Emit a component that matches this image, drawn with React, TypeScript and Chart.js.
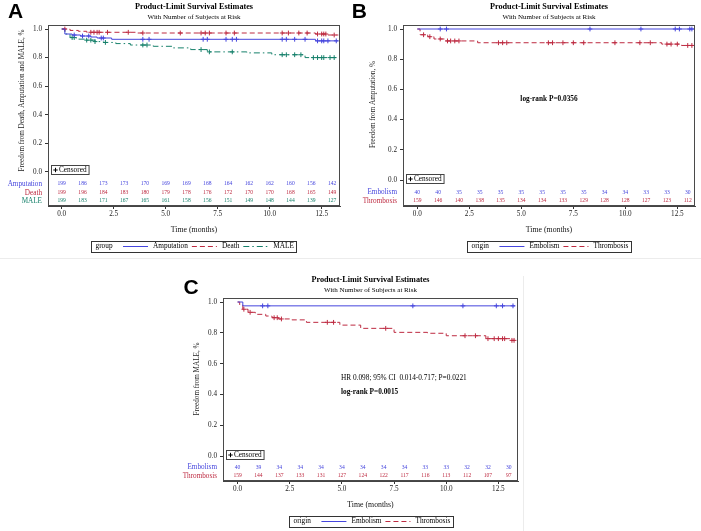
import React, { useEffect, useRef } from 'react';
import { Chart, registerables } from 'chart.js';

Chart.register(...registerables);

const BLUE = '#4545dd';
const RED = '#bd2a40';
const GREEN = '#16806b';
const SERIF = '"Liberation Serif", "Times New Roman", serif';
const SANS = '"Liberation Sans", Arial, sans-serif';

// ---------- shared axis data ----------
const riskMonths = [0, 1, 2, 3, 4, 5, 6, 7, 8, 9, 10, 11, 12, 13];
const xTickValues = [0, 2.5, 5, 7.5, 10, 12.5];
const yTickValues = [0, 0.2, 0.4, 0.6, 0.8, 1.0];

// ---------- Panel A ----------
const aAmpTimes = [0, 0.15, 0.5, 0.9, 1.4, 1.7, 2.4, 12.2, 13.3];
const aAmpSurv = [1.0, 0.965, 0.958, 0.951, 0.944, 0.937, 0.928, 0.917, 0.917];
const aAmpCens = [0.6, 1.0, 1.3, 1.9, 2.0, 3.9, 4.2, 6.8, 7.0, 7.9, 8.2, 8.4, 10.6, 10.8, 11.2, 11.7, 12.3, 12.5, 12.6, 12.8, 13.2];
const aAmpRisk = [199, 186, 173, 173, 170, 169, 169, 168, 164, 162, 162, 160, 156, 142];

const aDeathTimes = [0, 0.4, 0.8, 1.2, 3.6, 12.2, 12.8, 13.3];
const aDeathSurv = [1.0, 0.99, 0.984, 0.977, 0.972, 0.965, 0.958, 0.958];
const aDeathCens = [0.15, 1.4, 1.55, 1.7, 1.8, 2.2, 3.2, 3.9, 5.7, 6.7, 6.9, 7.1, 7.9, 8.3, 10.6, 10.9, 11.4, 11.8, 12.3, 12.5, 12.6, 12.7, 13.1];
const aDeathRisk = [199, 196, 184, 183, 180, 179, 178, 176, 172, 170, 170, 168, 165, 149];

const aMaleTimes = [0, 0.15, 0.4, 0.7, 1.1, 1.6, 2.0, 2.6, 3.3, 4.4, 5.3, 6.2, 7.0, 8.9, 10.1, 11.7, 13.3];
const aMaleSurv = [1.0, 0.965, 0.94, 0.929, 0.922, 0.912, 0.906, 0.898, 0.888, 0.879, 0.868, 0.856, 0.84, 0.833, 0.82, 0.8, 0.8];
const aMaleCens = [0.5, 0.6, 1.2, 1.4, 1.6, 2.1, 3.9, 4.1, 6.7, 7.1, 8.2, 10.6, 10.8, 11.2, 11.5, 12.1, 12.3, 12.5, 12.6, 12.9, 13.1];
const aMaleRisk = [199, 183, 171, 167, 165, 161, 158, 156, 151, 149, 148, 144, 139, 127];

// ---------- Panel B ----------
const bEmbTimes = [0, 13.3];
const bEmbSurv = [1.0, 1.0];
const bEmbCens = [1.1, 1.4, 8.3, 10.75, 12.4, 12.6, 13.1, 13.2];
const bEmbRisk = [40, 40, 35, 35, 35, 35, 35, 35, 35, 34, 34, 33, 33, 30];

const bThrTimes = [0, 0.13, 0.5, 0.8, 1.3, 2.9, 11.75, 12.7, 13.3];
const bThrSurv = [1.0, 0.962, 0.949, 0.934, 0.921, 0.909, 0.9, 0.891, 0.891];
const bThrCens = [0.3, 0.6, 1.1, 1.45, 1.6, 1.8, 2.0, 3.9, 4.1, 4.3, 6.3, 6.5, 7.0, 7.5, 8.0, 9.5, 10.7, 11.2, 12.0, 12.2, 12.5, 13.0, 13.2];
const bThrRisk = [159, 146, 140, 138, 135, 134, 134, 133, 129, 128, 128, 127, 123, 112];

// ---------- Panel C ----------
const cEmbTimes = [0, 0.25, 13.3];
const cEmbSurv = [1.0, 0.975, 0.975];
const cEmbCens = [1.2, 1.45, 8.4, 10.8, 12.4, 12.7, 13.2];
const cEmbRisk = [40, 39, 34, 34, 34, 34, 34, 34, 34, 33, 33, 32, 32, 30];

const cThrTimes = [0, 0.1, 0.25, 0.5, 0.85, 1.35, 1.65, 1.95, 2.6, 3.3, 4.9, 5.9, 7.5, 9.1, 10.0, 11.9, 13.1, 13.3];
const cThrSurv = [1.0, 0.98, 0.953, 0.933, 0.92, 0.909, 0.898, 0.89, 0.884, 0.868, 0.85, 0.829, 0.803, 0.797, 0.781, 0.762, 0.751, 0.751];
const cThrCens = [0.3, 0.6, 1.75, 1.9, 2.1, 4.3, 4.6, 7.1, 10.9, 11.4, 12.0, 12.3, 12.5, 12.7, 12.8, 13.15, 13.25];
const cThrRisk = [159, 144, 137, 133, 131, 127, 124, 122, 117, 116, 113, 112, 107, 97];

type Series = { name: string; color: string; dash: number[]; times: number[]; surv: number[]; cens: number[]; risk: number[] };
type Note = { text: string; dx: number; dy: number; bold?: boolean; align: CanvasTextAlign };
type PanelCfg = {
  letter: string;
  left: number; top: number; width: number; height: number;
  area: { l: number; t: number; r: number; b: number };
  xMin: number; xMax: number; yMin: number; yMax: number;
  yTitle: string; yTitleOffset: number;
  legendTitle: string;
  riskRowOffsets: number[];
  letterPos: [number, number];
  series: Series[];
  notes: Note[];
};

const DASHED = [5, 3];
const DASHDOT = [6, 3, 1.5, 3];

const panels: PanelCfg[] = [
  {
    letter: 'A', left: 0, top: 0, width: 348, height: 258,
    area: { l: 48, t: 25, r: 340, b: 206 },
    xMin: -0.66, xMax: 13.38, yMin: -0.238, yMax: 1.028,
    yTitle: 'Freedom from Death, Amputation and MALE, %', yTitleOffset: 25.5,
    legendTitle: 'group', riskRowOffsets: [22, 13.2, 5.3], letterPos: [8, 17.5],
    series: [
      { name: 'Amputation', color: BLUE, dash: [], times: aAmpTimes, surv: aAmpSurv, cens: aAmpCens, risk: aAmpRisk },
      { name: 'Death', color: RED, dash: DASHED, times: aDeathTimes, surv: aDeathSurv, cens: aDeathCens, risk: aDeathRisk },
      { name: 'MALE', color: GREEN, dash: DASHDOT, times: aMaleTimes, surv: aMaleSurv, cens: aMaleCens, risk: aMaleRisk },
    ],
    notes: [],
  },
  {
    letter: 'B', left: 350, top: 0, width: 351, height: 258,
    area: { l: 53, t: 25, r: 345, b: 206 },
    xMin: -0.69, xMax: 13.35, yMin: -0.172, yMax: 1.0265,
    yTitle: 'Freedom from Amputation, %', yTitleOffset: 30,
    legendTitle: 'origin', riskRowOffsets: [13.5, 5.3], letterPos: [1.7, 17.5],
    series: [
      { name: 'Embolism', color: BLUE, dash: [], times: bEmbTimes, surv: bEmbSurv, cens: bEmbCens, risk: bEmbRisk },
      { name: 'Thrombosis', color: RED, dash: DASHED, times: bThrTimes, surv: bThrSurv, cens: bThrCens, risk: bThrRisk },
    ],
    notes: [{ text: 'log-rank P=0.0356', dx: 146, dy: 74.3, bold: true, align: 'center' }],
  },
  {
    letter: 'C', left: 178, top: 274, width: 345, height: 257,
    area: { l: 45, t: 24, r: 341, b: 207 },
    xMin: -0.70, xMax: 13.44, yMin: -0.162, yMax: 1.026,
    yTitle: 'Freedom from MALE, %', yTitleOffset: 25.5,
    legendTitle: 'origin', riskRowOffsets: [13.5, 5.3], letterPos: [5.5, 20],
    series: [
      { name: 'Embolism', color: BLUE, dash: [], times: cEmbTimes, surv: cEmbSurv, cens: cEmbCens, risk: cEmbRisk },
      { name: 'Thrombosis', color: RED, dash: DASHED, times: cThrTimes, surv: cThrSurv, cens: cThrCens, risk: cThrRisk },
    ],
    notes: [
      { text: 'HR 0.098; 95% CI  0.014-0.717; P=0.0221', dx: 118, dy: 79.7, align: 'left' },
      { text: 'log-rank P=0.0015', dx: 118, dy: 94, bold: true, align: 'left' },
    ],
  },
];

function survAt(times: number[], surv: number[], t: number) {
  let v = surv[0];
  for (let i = 0; i < times.length; i++) if (times[i] <= t) v = surv[i];
  return v;
}

function drawCross(ctx: CanvasRenderingContext2D, x: number, y: number, r: number, color: string) {
  ctx.strokeStyle = color;
  ctx.lineWidth = 1;
  ctx.setLineDash([]);
  ctx.beginPath();
  ctx.moveTo(x - r, y); ctx.lineTo(x + r, y);
  ctx.moveTo(x, y - r); ctx.lineTo(x, y + r);
  ctx.stroke();
}

function makeDecor(cfg: PanelCfg) {
  return {
    id: 'kmDecor' + cfg.letter,
    afterDraw(chart: any) {
      const ctx: CanvasRenderingContext2D = chart.ctx;
      const a = chart.chartArea;
      const xs = chart.scales.x;
      const ys = chart.scales.y;
      const cx = (a.left + a.right) / 2;
      ctx.save();
      ctx.setLineDash([]);
      // frame
      ctx.strokeStyle = '#4a4a4a';
      ctx.lineWidth = 1;
      ctx.strokeRect(Math.round(a.left) + 0.5, Math.round(a.top) + 0.5, Math.round(a.right - a.left) - 1, Math.round(a.bottom - a.top) - 1);

      // panel letter
      ctx.fillStyle = '#000';
      ctx.font = `bold 21px ${SANS}`;
      ctx.textAlign = 'left';
      ctx.textBaseline = 'alphabetic';
      ctx.fillText(cfg.letter, cfg.letterPos[0], cfg.letterPos[1]);

      // titles
      ctx.textAlign = 'center';
      ctx.textBaseline = 'middle';
      ctx.font = `bold 8.2px ${SERIF}`;
      ctx.fillText('Product-Limit Survival Estimates', cx, a.top - 17.7);
      ctx.font = `7px ${SERIF}`;
      ctx.fillText('With Number of Subjects at Risk', cx, a.top - 8.3);

      // x title
      ctx.fillStyle = '#111';
      ctx.font = `7.8px ${SERIF}`;
      ctx.fillText('Time (months)', cx, a.bottom + 24);

      // y title
      ctx.save();
      ctx.translate(a.left - cfg.yTitleOffset, ys.getPixelForValue(0.5));
      ctx.rotate(-Math.PI / 2);
      ctx.font = `7.2px ${SERIF}`;
      ctx.fillStyle = '#222';
      ctx.fillText(cfg.yTitle, 0, 0);
      ctx.restore();

      // at-risk table
      cfg.series.forEach((s, si) => {
        const yy = a.bottom - cfg.riskRowOffsets[si];
        ctx.fillStyle = s.color;
        ctx.font = `7.2px ${SERIF}`;
        ctx.textAlign = 'right';
        ctx.fillText(s.name, a.left - 6, yy);
        ctx.font = `5.6px ${SERIF}`;
        ctx.textAlign = 'center';
        s.risk.forEach((n, i) => {
          ctx.fillText(String(n), xs.getPixelForValue(riskMonths[i]), yy);
        });
      });

      // censored box
      ctx.font = `7.3px ${SERIF}`;
      const cw = ctx.measureText('Censored').width;
      const bx = Math.round(a.left + 3) + 0.5;
      const by = Math.round(ys.getPixelForValue(0) - 2 - 4.5) + 0.5;
      ctx.strokeStyle = '#444';
      ctx.strokeRect(bx, by, cw + 10, 9);
      drawCross(ctx, bx + 4, by + 4.5, 2.2, '#000');
      ctx.fillStyle = '#000';
      ctx.textAlign = 'left';
      ctx.fillText('Censored', bx + 7.5, by + 5);

      // notes
      cfg.notes.forEach((n) => {
        ctx.font = `${n.bold ? 'bold ' : ''}7.3px ${SERIF}`;
        ctx.textAlign = n.align;
        ctx.fillStyle = '#000';
        ctx.fillText(n.text, a.left + n.dx, a.top + n.dy);
      });

      // legend
      ctx.font = `7.3px ${SERIF}`;
      const titleW = ctx.measureText(cfg.legendTitle).width;
      const widths = cfg.series.map((s) => ctx.measureText(s.name).width);
      let total = 4 + titleW + 10.5;
      widths.forEach((w, i) => { total += 25 + 5 + w + (i < widths.length - 1 ? 4 : 3); });
      const lx = Math.round(cx - total / 2) + 0.5;
      const ly = a.bottom + 40;
      ctx.strokeStyle = '#333';
      ctx.setLineDash([]);
      ctx.strokeRect(lx, Math.round(ly - 5.5) + 0.5, Math.round(total), 11);
      ctx.textAlign = 'left';
      ctx.fillStyle = '#000';
      let px = lx + 4;
      ctx.fillText(cfg.legendTitle, px, ly + 0.5);
      px += titleW + 10.5;
      cfg.series.forEach((s, i) => {
        ctx.strokeStyle = s.color;
        ctx.lineWidth = 1;
        ctx.setLineDash(s.dash);
        ctx.beginPath();
        ctx.moveTo(px, Math.round(ly) + 0.5);
        ctx.lineTo(px + 25, Math.round(ly) + 0.5);
        ctx.stroke();
        ctx.setLineDash([]);
        px += 30;
        ctx.fillStyle = '#000';
        ctx.fillText(s.name, px, ly + 0.5);
        px += widths[i] + 4;
      });
      ctx.restore();
    },
  };
}

function KMPanel({ cfg }: { cfg: PanelCfg }) {
  const ref = useRef<HTMLCanvasElement | null>(null);
  useEffect(() => {
    if (!ref.current) return;
    const yW = 30;
    const xH = 20;
    const datasets: any[] = [];
    cfg.series.forEach((s) => {
      datasets.push({
        label: s.name,
        data: s.times.map((t, i) => ({ x: t, y: s.surv[i] })),
        stepped: 'before',
        borderColor: s.color,
        borderWidth: 1,
        borderDash: s.dash,
        pointRadius: 0,
        fill: false,
      });
      datasets.push({
        label: s.name + ' censored',
        data: s.cens.map((t) => ({ x: t, y: survAt(s.times, s.surv, t) })),
        showLine: false,
        pointStyle: 'cross',
        pointRadius: 2.4,
        pointBorderWidth: 1,
        pointBorderColor: s.color,
        borderColor: s.color,
        backgroundColor: s.color,
      });
    });
    const tickFont = { family: SERIF, size: 7.2 };
    const chart = new Chart(ref.current, {
      type: 'line',
      data: { datasets },
      options: {
        animation: false,
        responsive: false,
        devicePixelRatio: 1,
        events: [],
        layout: {
          padding: {
            left: cfg.area.l - yW,
            top: cfg.area.t,
            right: cfg.width - cfg.area.r,
            bottom: cfg.height - cfg.area.b - xH,
          },
        },
        plugins: { legend: { display: false }, tooltip: { enabled: false }, title: { display: false } },
        scales: {
          x: {
            type: 'linear',
            min: cfg.xMin,
            max: cfg.xMax,
            afterBuildTicks: (s: any) => { s.ticks = xTickValues.map((v) => ({ value: v })); },
            afterFit: (s: any) => { s.height = xH; },
            ticks: { callback: (v: any) => Number(v).toFixed(1), font: tickFont, color: '#222', padding: 1, maxRotation: 0, autoSkip: false },
            grid: { drawOnChartArea: false, drawTicks: true, tickLength: 3, color: '#333' },
            border: { display: true, color: '#444' },
          },
          y: {
            type: 'linear',
            min: cfg.yMin,
            max: cfg.yMax,
            afterBuildTicks: (s: any) => { s.ticks = yTickValues.map((v) => ({ value: v })); },
            afterFit: (s: any) => { s.width = yW; },
            ticks: { callback: (v: any) => Number(v).toFixed(1), font: tickFont, color: '#222', padding: 3, autoSkip: false },
            grid: { drawOnChartArea: false, drawTicks: true, tickLength: 3, color: '#333' },
            border: { display: true, color: '#444' },
          },
        },
      } as any,
      plugins: [makeDecor(cfg)],
    });
    return () => chart.destroy();
  }, [cfg]);
  return (
    <canvas
      ref={ref}
      width={cfg.width}
      height={cfg.height}
      style={{ position: 'absolute', left: cfg.left, top: cfg.top, width: cfg.width, height: cfg.height }}
    />
  );
}

export default function App() {
  return (
    <div style={{ position: 'fixed', left: 0, top: 0, width: 701, height: 531, background: '#fff', overflow: 'hidden' }}>
      <div style={{ position: 'absolute', left: 0, top: 258, width: 701, height: 1, background: '#ececec' }} />
      <div style={{ position: 'absolute', left: 523, top: 276, width: 1, height: 255, background: '#ececec' }} />
      {panels.map((p) => (
        <KMPanel key={p.letter} cfg={p} />
      ))}
    </div>
  );
}
